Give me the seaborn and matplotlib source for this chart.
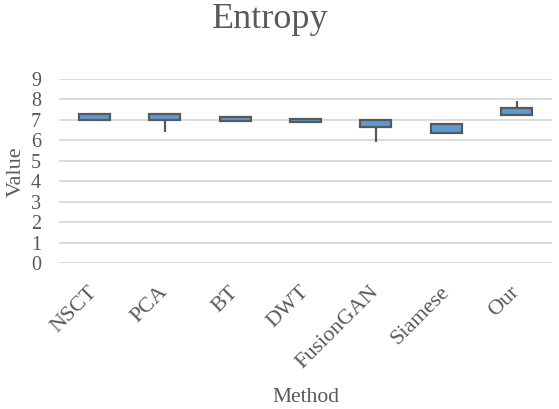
import matplotlib
matplotlib.use("Agg")
import matplotlib.pyplot as plt
import seaborn as sns
import pandas as pd

methods = ["NSCT", "PCA", "BT", "DWT", "FusionGAN", "Siamese", "Our"]
# five-number summaries: min, q1, median, q3, max
nsct = [6.98, 6.98, 7.12, 7.27, 7.27]
pca = [6.41, 6.98, 7.12, 7.27, 7.27]
bt = [6.97, 6.97, 7.05, 7.12, 7.12]
dwt = [6.88, 6.88, 6.96, 7.04, 7.04]
fusiongan = [5.93, 6.65, 6.82, 6.98, 6.98]
siamese = [6.36, 6.36, 6.6, 6.81, 6.81]
our = [7.22, 7.22, 7.4, 7.56, 7.94]
values = [nsct, pca, bt, dwt, fusiongan, siamese, our]
yticks = list(range(0, 10))

rows = []
for m, vals in zip(methods, values):
    for v in vals:
        rows.append({"Method": m, "Value": v})
df = pd.DataFrame(rows)

sns.set_style("white")
plt.rcParams["font.family"] = ["Liberation Serif", "DejaVu Serif"]
txt = "#595959"

fig = plt.figure(figsize=(5.59, 4.09), dpi=100)
ax = fig.add_axes([59 / 559, 1 - 263 / 409, (552 - 59) / 559, (263 - 79) / 409])

sns.boxplot(data=df, x="Method", y="Value", order=methods, ax=ax,
            color="#5B9BD5", saturation=1, width=0.44, whis=(0, 100),
            showcaps=False, showfliers=False, linecolor="#595959", linewidth=1.6,
            medianprops={"color": "#5B9BD5", "linewidth": 0})

ax.set_ylim(0, 9)
ax.set_yticks(yticks)
ax.set_xlim(-0.5, len(methods) - 0.5)
ax.yaxis.grid(True, color="#D9D9D9", linewidth=1.3)
ax.set_axisbelow(True)
for s in ax.spines.values():
    s.set_visible(False)
ax.tick_params(axis="both", length=0, colors=txt)
ax.tick_params(axis="y", pad=13, labelsize=14.5)
ax.tick_params(axis="x", pad=19, labelsize=16)
for lab in ax.get_xticklabels():
    lab.set_rotation(45)
    lab.set_ha("right")
    lab.set_va("center")
    lab.set_rotation_mode("anchor")

ax.set_xlabel("Method", fontsize=15.5, color=txt)
ax.xaxis.set_label_coords((306 - 59) / 493, -(398 - 263) / 184)
ax.xaxis.label.set_va("center")
ax.set_ylabel("Value", fontsize=16, color=txt)
ax.yaxis.set_label_coords((16 - 59) / 493, (263 - 172) / 184)
ax.yaxis.label.set_va("center")
fig.text(270 / 559, 1 - 19 / 409, "Entropy", ha="center", va="center", fontsize=26, color=txt)

fig.savefig("out.png", dpi=100)
